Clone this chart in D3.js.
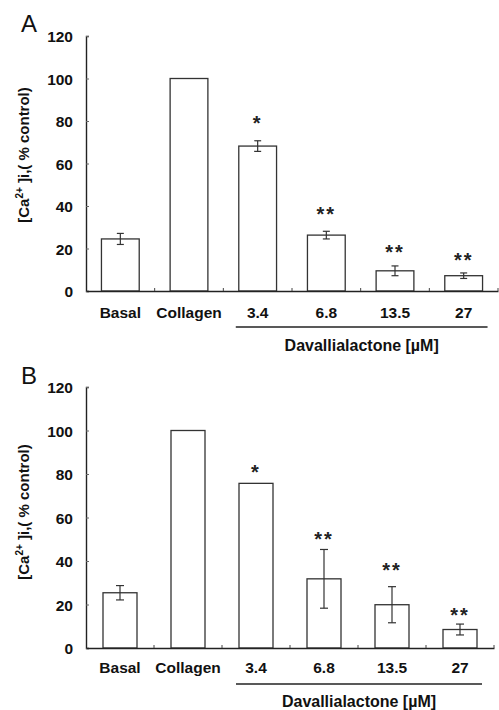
<!DOCTYPE html>
<html>
<head>
<meta charset="utf-8">
<script src="https://cdn.jsdelivr.net/npm/d3@7"></script>
<style>
  html, body { margin: 0; padding: 0; background: #fff; }
  svg { display: block; }
  text { font-family: "Liberation Sans", Arial, Helvetica, sans-serif; }
</style>
</head>
<body>
<svg id="chart" width="499" height="710"></svg>
<script>
// ---- data ----
const categories = ["Basal", "Collagen", "3.4", "6.8", "13.5", "27"];
const valuesA = [24.5, 100, 68.2, 26.3, 9.5, 7.2];
const errorsA = [2.6, 0, 2.5, 1.8, 2.3, 1.3];
const starsA = ["", "", "*", "**", "**", "**"];
const starLevelA = [null, null, 80, 37.3, 19.3, 15.6];

const valuesB = [25.4, 100, 75.7, 31.8, 19.9, 8.5];
const errorsB = [3.3, 0, 0, 13.5, 8.3, 2.5];
const starsB = ["", "", "*", "**", "**", "**"];
const starLevelB = [null, null, 81.8, 51, 36.8, 16.1];

const yTicks = [0, 20, 40, 60, 80, 100, 120];
const panelLabels = ["A", "B"];
const groupLabel = "Davallialactone [\u00B5M]";
const groupStart = "3.4";
const groupEnd = "27";

const svg = d3.select("#chart");

function panel(cfg) {
  const g = svg.append("g");
  const x = d3.scaleBand().domain(categories).range([cfg.left, cfg.right]).paddingInner(cfg.pad).paddingOuter(cfg.pad / 2);
  const y = d3.scaleLinear().domain([0, 120]).range([cfg.bottom, cfg.top]);
  const step = x.step();

  // y axis
  const yAxis = d3.axisLeft(y).tickValues(yTicks).tickSize(-3).tickPadding(13).tickFormat(d3.format("d"));
  const ya = g.append("g").attr("transform", `translate(${cfg.left},0)`).call(yAxis);
  ya.select(".domain").attr("stroke", "#222").attr("stroke-width", 1.4);
  ya.selectAll(".tick line").attr("stroke", "#666").attr("stroke-width", 1);
  ya.selectAll(".tick text").attr("font-size", 15.5).attr("font-weight", "bold").attr("fill", "#111")
    .attr("font-family", "Liberation Sans, Arial, sans-serif").attr("dy", "0.36em");

  // bars
  g.selectAll("rect.bar").data(cfg.values).join("rect")
    .attr("class", "bar")
    .attr("x", (d, i) => x(categories[i]))
    .attr("width", x.bandwidth())
    .attr("y", d => y(d))
    .attr("height", d => y(0) - y(d))
    .attr("fill", "#fff").attr("stroke", "#333").attr("stroke-width", 1.3);

  // error bars
  const cap = cfg.cap;
  cfg.values.forEach((v, i) => {
    const e = cfg.errors[i];
    if (!e) return;
    const cx = x(categories[i]) + x.bandwidth() / 2;
    g.append("line").attr("x1", cx).attr("x2", cx).attr("y1", y(v + e)).attr("y2", y(v - e))
      .attr("stroke", "#333").attr("stroke-width", 1.2);
    [v + e, v - e].forEach(t => {
      g.append("line").attr("x1", cx - cap / 2).attr("x2", cx + cap / 2).attr("y1", y(t)).attr("y2", y(t))
        .attr("stroke", "#333").attr("stroke-width", 1.2);
    });
  });

  // stars
  cfg.stars.forEach((s, i) => {
    if (!s) return;
    const cx = x(categories[i]) + x.bandwidth() / 2;
    g.append("text").attr("x", cx).attr("y", y(cfg.starLevel[i]) + 9)
      .attr("text-anchor", "middle").attr("font-size", 20).attr("font-weight", "bold")
      .attr("letter-spacing", 2).attr("fill", "#222").text(s);
  });

  // x axis
  const xAxis = d3.axisBottom(x).tickSize(0).tickPadding(0);
  const xa = g.append("g").attr("transform", `translate(0,${cfg.bottom})`).call(xAxis);
  xa.select(".domain").attr("stroke", "#222").attr("stroke-width", 1.4);
  xa.selectAll(".tick text").attr("font-size", 15.5).attr("font-weight", "bold").attr("fill", "#111")
    .attr("dy", null).attr("y", cfg.labelY - cfg.bottom)
    .attr("font-family", "Liberation Sans, Arial, sans-serif");
  // boundary ticks (inward)
  const bounds = d3.range(1, categories.length + 1).map(k => cfg.left + k * step);
  g.selectAll("line.btick").data(bounds).join("line").attr("class", "btick")
    .attr("x1", d => d).attr("x2", d => d).attr("y1", cfg.bottom).attr("y2", cfg.bottom - 3)
    .attr("stroke", "#444").attr("stroke-width", 1);

  // group line + label
  const gx1 = x(groupStart) - 3;
  const gx2 = x(groupEnd) + x.bandwidth() + 5;
  g.append("line").attr("x1", gx1).attr("x2", gx2).attr("y1", cfg.groupLineY).attr("y2", cfg.groupLineY)
    .attr("stroke", "#222").attr("stroke-width", 1.4);
  g.append("text").attr("x", (gx1 + gx2) / 2).attr("y", cfg.groupLabelY).attr("text-anchor", "middle")
    .attr("font-size", 16).attr("font-weight", "bold").attr("fill", "#111").text(groupLabel);

  // y label
  const ly = g.append("text").attr("transform", `translate(${cfg.yLabelX},${cfg.yLabelCY}) rotate(-90)`)
    .attr("text-anchor", "middle").attr("font-size", 15).attr("font-weight", "bold").attr("fill", "#111");
  ly.append("tspan").text("[Ca");
  ly.append("tspan").attr("font-size", 10).attr("dy", -6).text("2+");
  ly.append("tspan").attr("dy", 6).text(" ]i,( % control)");

  // panel letter
  g.append("text").attr("x", cfg.letterX).attr("y", cfg.letterY).attr("font-size", 24).attr("fill", "#111")
    .text(cfg.letter);
}

panel({
  left: 86, right: 498, top: 36, bottom: 291, pad: 0.45, cap: 7,
  values: valuesA, errors: errorsA, stars: starsA, starLevel: starLevelA,
  labelY: 318, groupLineY: 327, groupLabelY: 351,
  yLabelX: 29, yLabelCY: 155, letter: panelLabels[0], letterX: 21, letterY: 32
});

panel({
  left: 86, right: 494, top: 387, bottom: 648, pad: 0.5, cap: 8,
  values: valuesB, errors: errorsB, stars: starsB, starLevel: starLevelB,
  labelY: 673, groupLineY: 684, groupLabelY: 707,
  yLabelX: 29, yLabelCY: 512, letter: panelLabels[1], letterX: 21, letterY: 384
});
</script>
</body>
</html>
